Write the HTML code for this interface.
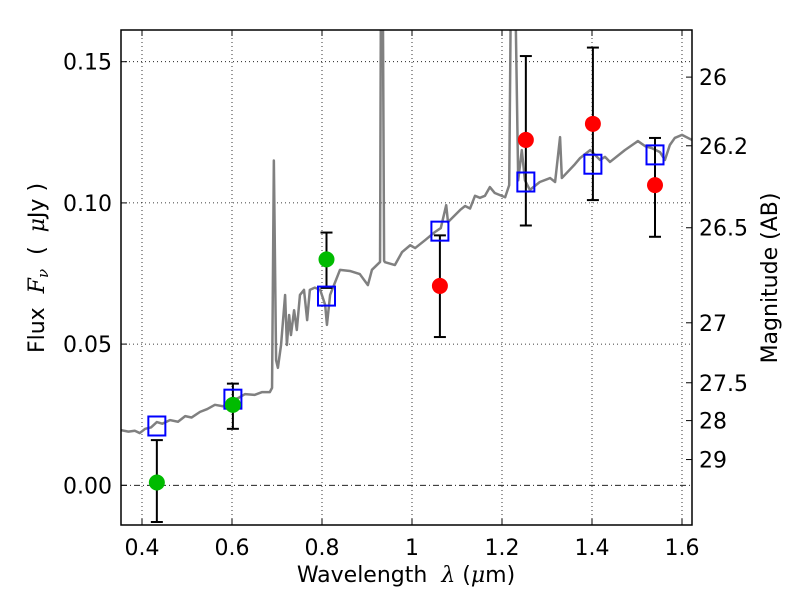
<!DOCTYPE html>
<html><head><meta charset="utf-8"><style>
html,body{margin:0;padding:0;background:#fff;}
svg text{font-family:"DejaVu Sans","Liberation Sans",sans-serif;white-space:pre;}
</style></head><body>
<svg id="chart" width="800" height="600" viewBox="0 0 800 600" xmlns="http://www.w3.org/2000/svg">
<rect width="800" height="600" fill="#fff"/>
<defs><clipPath id="pc"><rect x="121" y="30" width="571" height="495"/></clipPath></defs>
<g id="grid"></g>
<g id="spec" clip-path="url(#pc)"></g>
<g id="marks"></g>
<g id="axes"></g>
<text x="406" y="582" font-size="22" text-anchor="middle">Wavelength  <tspan font-style="italic" font-family="DejaVu Serif,serif">λ</tspan> (<tspan font-style="italic" font-family="DejaVu Serif,serif">μ</tspan>m)</text>
<text transform="translate(44,268) rotate(-90)" font-size="22" text-anchor="middle">Flux  <tspan font-style="italic" font-family="DejaVu Serif,serif">F<tspan font-size="15" dy="4">ν</tspan></tspan><tspan dy="-4">  (  </tspan><tspan font-style="italic" font-family="DejaVu Serif,serif">μ</tspan>Jy )</text>
<text transform="translate(777,278) rotate(-90)" font-size="22" text-anchor="middle">Magnitude (AB)</text>
</svg>
<script>
const specW=[0.351,0.370,0.384,0.395,0.407,0.420,0.433,0.445,0.462,0.480,0.496,0.510,0.529,0.545,0.562,0.580,0.600,0.615,0.629,0.650,0.667,0.684,0.689,0.693,0.698,0.702,0.709,0.718,0.722,0.727,0.731,0.738,0.744,0.751,0.760,0.767,0.773,0.784,0.796,0.807,0.811,0.818,0.840,0.862,0.884,0.902,0.911,0.929,0.931,0.935,0.938,0.940,0.962,0.978,0.996,1.007,1.029,1.051,1.064,1.076,1.080,1.107,1.118,1.129,1.140,1.151,1.162,1.173,1.184,1.207,1.216,1.220,1.229,1.236,1.244,1.251,1.262,1.284,1.307,1.318,1.329,1.333,1.362,1.373,1.396,1.418,1.429,1.440,1.473,1.502,1.518,1.533,1.551,1.562,1.573,1.584,1.600,1.622];
const specF=[0.0196,0.0190,0.0193,0.0185,0.0200,0.0205,0.0224,0.0218,0.0231,0.0225,0.0245,0.0240,0.0260,0.0270,0.0285,0.0280,0.0302,0.0310,0.0323,0.0320,0.0330,0.0330,0.0345,0.1150,0.0443,0.0416,0.0497,0.0674,0.0497,0.0603,0.0532,0.0620,0.0550,0.0674,0.0692,0.0585,0.0692,0.0700,0.0692,0.0639,0.0568,0.0674,0.0763,0.0759,0.0748,0.0709,0.0763,0.0791,0.1800,0.1800,0.0795,0.0790,0.0780,0.0826,0.0850,0.0840,0.0868,0.0897,0.0911,0.0992,0.0932,0.0975,0.0989,0.0980,0.1025,0.1018,0.1025,0.1056,0.1035,0.1020,0.1063,0.1800,0.1800,0.1080,0.1187,0.1080,0.1046,0.1074,0.1088,0.1074,0.1233,0.1088,0.1137,0.1158,0.1187,0.1152,0.1163,0.1145,0.1187,0.1219,0.1201,0.1194,0.1180,0.1152,0.1205,0.1230,0.1241,0.1223];
const modelW=[0.433,0.602,0.810,1.062,1.253,1.402,1.540];
const modelF=[0.0210,0.0305,0.0670,0.0900,0.1074,0.1137,0.1170];
const obsW=[0.433,0.602,0.810,1.062,1.253,1.402,1.540];
const obsF=[0.0010,0.0285,0.0800,0.0706,0.1223,0.1280,0.1063];
const obsLo=[-0.0130,0.0200,0.0699,0.0525,0.0920,0.1010,0.0880];
const obsHi=[0.0160,0.0360,0.0895,0.0885,0.1520,0.1550,0.1230];
const obsColor=['#00bb00','#00bb00','#00bb00','#ff0000','#ff0000','#ff0000','#ff0000'];
const xTicks=[0.4,0.6,0.8,1.0,1.2,1.4,1.6];
const xTickLabels=['0.4','0.6','0.8','1','1.2','1.4','1.6'];
const yTicks=[0,0.05,0.10,0.15];
const yTickLabels=['0.00','0.05','0.10','0.15'];
const magTicks=[26,26.2,26.5,27,27.5,28,29];
const magTickLabels=['26','26.2','26.5','27','27.5','28','29'];

const L=121,R=692,T=30,B=525;
const X=w=>142+(w-0.4)*450;
const Y=f=>485.3-f*2824;
const NS='http://www.w3.org/2000/svg';
function mk(tag,attrs,parent){const e=document.createElementNS(NS,tag);for(const k in attrs)e.setAttribute(k,attrs[k]);parent.appendChild(e);return e;}
const grid=document.getElementById('grid'),spec=document.getElementById('spec'),marks=document.getElementById('marks'),axes=document.getElementById('axes');

xTicks.forEach((t,i)=>{
  const gl=mk('line',{x1:X(t),x2:X(t),y1:T,y2:B,stroke:'#000','stroke-width':0.8,'stroke-dasharray':'1,3'},grid);
  
  
  mk('line',{x1:X(t),x2:X(t),y1:B,y2:B-6,stroke:'#000'},axes);
  mk('line',{x1:X(t),x2:X(t),y1:T,y2:T+6,stroke:'#000'},axes);
  const tx=mk('text',{x:X(t),y:B+30,'font-size':22,'text-anchor':'middle'},axes);
  tx.textContent=xTickLabels[i];
  
  
});
yTicks.forEach((t,i)=>{
  const gl=mk('line',{x1:L,x2:R,y1:Y(t),y2:Y(t),stroke:'#000','stroke-width':0.8,'stroke-dasharray':t===0?'6,3,1,3':'1,3'},grid);
  
  
  mk('line',{x1:L,x2:L+6,y1:Y(t),y2:Y(t),stroke:'#000'},axes);
  const tx=mk('text',{x:L-9,y:Y(t)+8,'font-size':22,'text-anchor':'end'},axes);
  tx.textContent=yTickLabels[i];
  
  
});
magTicks.forEach((m,i)=>{
  const f=Math.pow(10,(23.9-m)/2.5);
  mk('line',{x1:R,x2:R-6,y1:Y(f),y2:Y(f),stroke:'#000'},axes);
  const tx=mk('text',{x:R+7,y:Y(f)+8,'font-size':22},axes);
  tx.textContent=magTickLabels[i];
  
  
});
const sp=mk('polyline',{points:specW.map((w,i)=>X(w)+','+Y(specF[i])).join(' '),fill:'none',stroke:'#808080','stroke-width':2.5,'stroke-linejoin':'round'},spec);



obsW.forEach((w,i)=>{
  const g=mk('g',{},marks);
  
  
  mk('line',{x1:X(w),x2:X(w),y1:Y(obsLo[i]),y2:Y(obsHi[i]),stroke:'#000','stroke-width':2},g);
  mk('line',{x1:X(w)-6,x2:X(w)+6,y1:Y(obsLo[i]),y2:Y(obsLo[i]),stroke:'#000','stroke-width':2},g);
  mk('line',{x1:X(w)-6,x2:X(w)+6,y1:Y(obsHi[i]),y2:Y(obsHi[i]),stroke:'#000','stroke-width':2},g);
});
modelW.forEach((w,i)=>{
  const r=mk('rect',{x:X(modelW[i])-8.5,y:Y(modelF[i])-9.5,width:17,height:19,fill:'none',stroke:'#0000ff','stroke-width':2},marks);
  
  
});
obsW.forEach((w,i)=>{
  const c=mk('circle',{cx:X(w),cy:Y(obsF[i]),r:8,fill:obsColor[i]},marks);
  
  
});
const fr=mk('rect',{x:L,y:T,width:R-L,height:B-T,fill:'none',stroke:'#000','stroke-width':1.5},axes);


</script>
</body></html>
